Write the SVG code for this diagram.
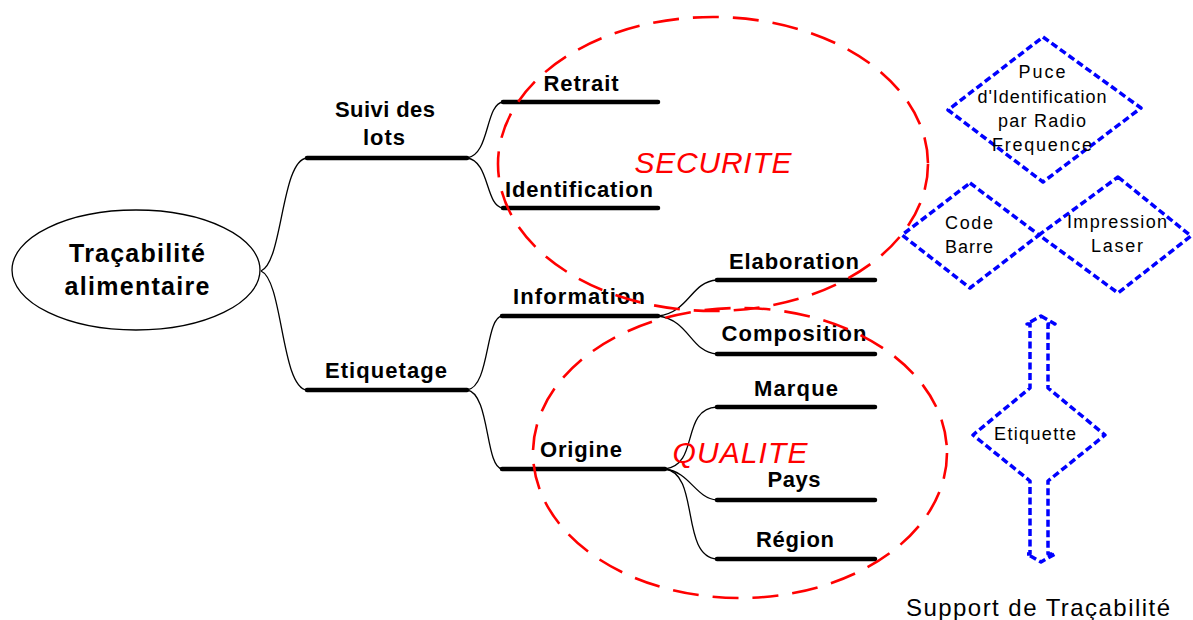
<svg xmlns="http://www.w3.org/2000/svg" width="1193" height="620" viewBox="0 0 1193 620">
<style>
  .bg { fill: #ffffff; }
  .lbl { font-family: "Liberation Sans", Arial, sans-serif; font-weight: bold; font-size: 22px; fill: #000; text-anchor: middle; }
  .root { font-family: "Liberation Sans", Arial, sans-serif; font-weight: bold; font-size: 25px; fill: #000; text-anchor: middle; }
  .bt { font-family: "Liberation Sans", Arial, sans-serif; font-size: 18px; fill: #000; text-anchor: middle; }
  .zone { font-family: "Liberation Sans", Arial, sans-serif; font-style: italic; font-size: 30px; fill: #ff0000; text-anchor: middle; }
  .cap { font-family: "Liberation Sans", Arial, sans-serif; font-size: 24px; fill: #000; text-anchor: middle; }
  .ul { stroke: #000; stroke-width: 4.5; stroke-linecap: round; fill: none; }
  .conn { stroke: #000; stroke-width: 1.3; fill: none; }
  .red { stroke: #ff0000; stroke-width: 2.6; fill: none; stroke-dasharray: 26 14; }
  .blue { stroke: #0000ff; stroke-width: 3.5; fill: none; stroke-dasharray: 7 3.5; stroke-linejoin: round; }
  .ell { stroke: #000; stroke-width: 1.3; fill: #fff; }
</style>
<rect class="bg" x="0" y="0" width="1193" height="620"/>

<g id="connectors">
  <path class="conn" d="M261,271 C283,262 281,160 307,158"/>
  <path class="conn" d="M261,271 C283,280 281,388 307,390"/>
  <path class="conn" d="M467,158 C490,155 485,104 503,102"/>
  <path class="conn" d="M467,158 C490,161 485,206 503,208"/>
  <path class="conn" d="M467,390 C490,387 485,318 502,316"/>
  <path class="conn" d="M467,390 C490,393 485,467 502,469"/>
  <path class="conn" d="M658,316 C690,312 690,282 717,280"/>
  <path class="conn" d="M658,316 C690,320 690,352 717,354"/>
  <path class="conn" d="M665,469 C700,465 680,409 717,407"/>
  <path class="conn" d="M665,469 C690,472 695,498 717,500"/>
  <path class="conn" d="M665,469 C700,473 680,557 717,559"/>
</g>

<g id="node-root">
  <ellipse class="ell" cx="136" cy="270" rx="124" ry="60"/>
  <text class="root" x="137" y="262" textLength="136" lengthAdjust="spacing">Traçabilité</text>
  <text class="root" x="137" y="295" textLength="145" lengthAdjust="spacing">alimentaire</text>
</g>

<g id="node-suivi">
  <line class="ul" x1="307" y1="158" x2="467" y2="158"/>
  <text class="lbl" x="385" y="117" textLength="100" lengthAdjust="spacing">Suivi des</text>
  <text class="lbl" x="384" y="145" textLength="42" lengthAdjust="spacing">lots</text>
</g>

<g id="node-etiquetage">
  <line class="ul" x1="307" y1="390" x2="467" y2="390"/>
  <text class="lbl" x="386" y="378" textLength="122" lengthAdjust="spacing">Etiquetage</text>
</g>

<g id="node-retrait">
  <line class="ul" x1="503" y1="102" x2="658" y2="102"/>
  <text class="lbl" x="581" y="91" textLength="75" lengthAdjust="spacing">Retrait</text>
</g>

<g id="node-identification">
  <line class="ul" x1="503" y1="208" x2="658" y2="208"/>
  <text class="lbl" x="579" y="197" textLength="148" lengthAdjust="spacing">Identification</text>
</g>

<g id="node-information">
  <line class="ul" x1="502" y1="316" x2="658" y2="316"/>
  <text class="lbl" x="579" y="304" textLength="132" lengthAdjust="spacing">Information</text>
</g>

<g id="node-origine">
  <line class="ul" x1="502" y1="469" x2="665" y2="469"/>
  <text class="lbl" x="581" y="457" textLength="82" lengthAdjust="spacing">Origine</text>
</g>

<g id="node-elaboration">
  <line class="ul" x1="717" y1="280" x2="875" y2="280"/>
  <text class="lbl" x="794" y="269" textLength="130" lengthAdjust="spacing">Elaboration</text>
</g>

<g id="node-composition">
  <line class="ul" x1="717" y1="354" x2="875" y2="354"/>
  <text class="lbl" x="794" y="341" textLength="145" lengthAdjust="spacing">Composition</text>
</g>

<g id="node-marque">
  <line class="ul" x1="717" y1="407" x2="875" y2="407"/>
  <text class="lbl" x="796" y="396" textLength="84" lengthAdjust="spacing">Marque</text>
</g>

<g id="node-pays">
  <line class="ul" x1="717" y1="500" x2="875" y2="500"/>
  <text class="lbl" x="794" y="487" textLength="53" lengthAdjust="spacing">Pays</text>
</g>

<g id="node-region">
  <line class="ul" x1="717" y1="559" x2="875" y2="559"/>
  <text class="lbl" x="795" y="547" textLength="78" lengthAdjust="spacing">Région</text>
</g>

<g id="zone-securite">
  <ellipse class="red" cx="713" cy="164" rx="215" ry="147"/>
  <text class="zone" x="713" y="173" textLength="157" lengthAdjust="spacing">SECURITE</text>
</g>

<g id="zone-qualite">
  <ellipse class="red" cx="740" cy="453" rx="207" ry="145"/>
  <text class="zone" x="740" y="463" textLength="135" lengthAdjust="spacing">QUALITE</text>
</g>

<g id="node-puce">
  <polygon class="blue" points="1043,37 1141,108 1043,182 948,110"/>
  <text class="bt" x="1042" y="78" textLength="47" lengthAdjust="spacing">Puce</text>
  <text class="bt" x="1042" y="103" textLength="129" lengthAdjust="spacing">d'Identification</text>
  <text class="bt" x="1042" y="127" textLength="88" lengthAdjust="spacing">par Radio</text>
  <text class="bt" x="1042" y="151" textLength="100" lengthAdjust="spacing">Frequence</text>
</g>

<g id="node-code-barre">
  <polygon class="blue" points="970,183 1039,235 970,288 902,235"/>
  <text class="bt" x="969" y="229" textLength="48" lengthAdjust="spacing">Code</text>
  <text class="bt" x="969" y="253" textLength="48" lengthAdjust="spacing">Barre</text>
</g>

<g id="node-impression-laser">
  <polygon class="blue" points="1118,177 1191,236 1118,293 1039,235"/>
  <text class="bt" x="1117" y="228" textLength="100" lengthAdjust="spacing">Impression</text>
  <text class="bt" x="1117" y="252" textLength="52" lengthAdjust="spacing">Laser</text>
</g>

<g id="node-etiquette">
  <polygon class="blue" points="1041,316 1055,324 1048,324 1048,388 1105,435 1048,481 1048,554 1055,554 1041,562 1027,554 1030,554 1030,481 973,435 1030,388 1030,324 1027,324"/>
  <text class="bt" x="1035" y="440" textLength="82" lengthAdjust="spacing">Etiquette</text>
</g>

<g id="caption">
  <text class="cap" x="1038" y="616" textLength="264" lengthAdjust="spacing">Support de Traçabilité</text>
</g>
</svg>
